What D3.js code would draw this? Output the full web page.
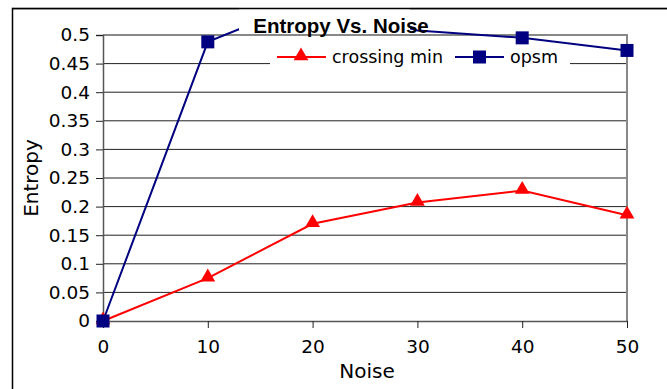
<!DOCTYPE html>
<html>
<head>
<meta charset="utf-8">
<script src="https://cdn.jsdelivr.net/npm/d3@7"></script>
<style>
  body { margin: 0; background: #fff; }
  svg { display: block; font-family: "DejaVu Sans", sans-serif; }
</style>
</head>
<body>
<div id="chart"></div>
<script>
const noise = [0, 10, 20, 30, 40, 50];
const crossingMin = [0, 0.075, 0.17, 0.207, 0.228, 0.185];
const opsm = [0, 0.488, 0.562, 0.508, 0.495, 0.473];
const yTicks = [0, 0.05, 0.1, 0.15, 0.2, 0.25, 0.3, 0.35, 0.4, 0.45, 0.5];
const xTicks = [0, 10, 20, 30, 40, 50];

const width = 667, height = 389;
const plot = { left: 103, right: 627, top: 35, bottom: 321 };

const svg = d3.select("#chart").append("svg")
  .attr("width", width)
  .attr("height", height);

// outer chart border
svg.append("rect")
  .attr("x", 12.5).attr("y", 8.5)
  .attr("width", 700).attr("height", 420)
  .attr("fill", "#fff").attr("stroke", "#000").attr("stroke-width", 1.5);

const x = d3.scaleLinear().domain([0, 50]).range([plot.left, plot.right]);
const y = d3.scaleLinear().domain([0, 0.5]).range([plot.bottom, plot.top]);

// gridlines
svg.append("g")
  .selectAll("line")
  .data(yTicks.filter(d => d > 0 && d < 0.5))
  .join("line")
  .attr("x1", plot.left).attr("x2", plot.right)
  .attr("y1", d => y(d)).attr("y2", d => y(d))
  .attr("stroke", "#222").attr("stroke-width", 1);

// plot area border (top/right gray)
svg.append("path")
  .attr("d", `M${plot.left},${plot.top}H${plot.right}V${plot.bottom}`)
  .attr("fill", "none").attr("stroke", "#888").attr("stroke-width", 2);

// y axis
const yAxis = svg.append("g")
  .attr("transform", `translate(${plot.left},0)`)
  .call(d3.axisLeft(y).tickValues(yTicks).tickSize(7).tickPadding(6)
    .tickFormat(d => d3.format("~g")(d)));
yAxis.select(".domain").attr("stroke", "#555").attr("stroke-width", 1.5);
yAxis.selectAll(".tick line").attr("stroke", "#222");
yAxis.selectAll("text").attr("font-size", 18.5).attr("fill", "#000")
  .attr("font-family", "DejaVu Sans, sans-serif");

// x axis
const xAxis = svg.append("g")
  .attr("transform", `translate(0,${plot.bottom})`)
  .call(d3.axisBottom(x).tickValues(xTicks).tickSize(7).tickPadding(12).tickSizeOuter(0));
xAxis.select(".domain").attr("stroke", "#555").attr("stroke-width", 1.5);
xAxis.selectAll(".tick line").attr("stroke", "#222");
xAxis.selectAll("text").attr("font-size", 18.5).attr("fill", "#000")
  .attr("font-family", "DejaVu Sans, sans-serif");

// axis titles
svg.append("text")
  .attr("transform", "translate(38,178) rotate(-90)")
  .attr("text-anchor", "middle")
  .attr("font-size", 20)
  .text("Entropy");
svg.append("text")
  .attr("x", 367).attr("y", 378)
  .attr("text-anchor", "middle")
  .attr("font-size", 20)
  .text("Noise");

const line = d3.line().x((d, i) => x(noise[i])).y(d => y(d));

// series lines
svg.append("path").datum(opsm)
  .attr("d", line).attr("fill", "none")
  .attr("stroke", "#000080").attr("stroke-width", 2);
svg.append("path").datum(crossingMin)
  .attr("d", line).attr("fill", "none")
  .attr("stroke", "#ff0000").attr("stroke-width", 2);

const tri = d3.symbol().type(d3.symbolTriangle).size(95);

// markers only for points inside the axis range
const inRange = (arr) => arr.map((v, i) => ({ n: noise[i], v })).filter(d => d.v <= 0.5);

svg.append("g").selectAll("path")
  .data(inRange(crossingMin))
  .join("path")
  .attr("d", tri)
  .attr("transform", d => `translate(${x(d.n)},${y(d.v) - 1})`)
  .attr("fill", "#ff0000");

svg.append("g").selectAll("rect")
  .data(inRange(opsm))
  .join("rect")
  .attr("x", d => x(d.n) - 6.5)
  .attr("y", d => y(d.v) - 6.5)
  .attr("width", 13).attr("height", 13)
  .attr("fill", "#000080");

// title with white box covering the line
svg.append("rect")
  .attr("x", 239).attr("y", 0).attr("width", 171).attr("height", 30)
  .attr("fill", "#fff");
svg.append("rect")
  .attr("x", 12.5).attr("y", 0).attr("width", 660).attr("height", 7.75)
  .attr("fill", "#fff");
svg.append("line")
  .attr("x1", 12).attr("x2", 667).attr("y1", 8.5).attr("y2", 8.5)
  .attr("stroke", "#000").attr("stroke-width", 1.5);
svg.append("text")
  .attr("x", 341).attr("y", 33)
  .attr("text-anchor", "middle")
  .attr("font-family", "Liberation Sans, Arial, sans-serif")
  .attr("font-size", 20.5).attr("font-weight", "bold")
  .text("Entropy Vs. Noise");

// legend
const legend = svg.append("g");
legend.append("rect")
  .attr("x", 270).attr("y", 45).attr("width", 300).attr("height", 24)
  .attr("fill", "#fff");
const items = [
  { name: "crossing min", color: "#ff0000", x0: 277, sym: "tri" },
  { name: "opsm", color: "#000080", x0: 455, sym: "sq" }
];
items.forEach(it => {
  legend.append("line")
    .attr("x1", it.x0).attr("x2", it.x0 + 49)
    .attr("y1", 57).attr("y2", 57)
    .attr("stroke", it.color).attr("stroke-width", 2);
  if (it.sym === "tri") {
    legend.append("path").attr("d", tri)
      .attr("transform", `translate(${it.x0 + 24},56)`)
      .attr("fill", it.color);
  } else {
    legend.append("rect")
      .attr("x", it.x0 + 18).attr("y", 50.5).attr("width", 13).attr("height", 13)
      .attr("fill", it.color);
  }
  legend.append("text")
    .attr("x", it.x0 + 55).attr("y", 63)
    .attr("font-size", 17.5)
    .text(it.name);
});
</script>
</body>
</html>
